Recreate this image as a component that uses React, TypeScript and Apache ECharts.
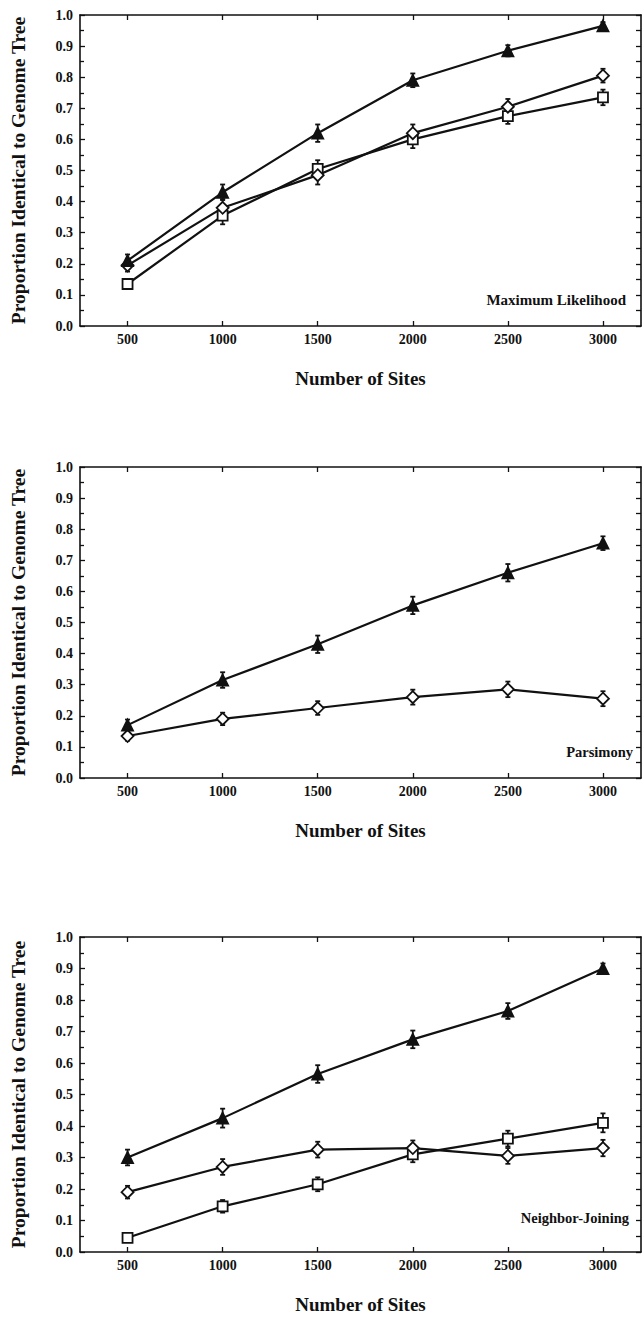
import React, { useEffect, useRef } from "react";
import * as echarts from "echarts";

// ---- data ----
const sites = [500, 1000, 1500, 2000, 2500, 3000];
const yTicks = [0, 0.1, 0.2, 0.3, 0.4, 0.5, 0.6, 0.7, 0.8, 0.9, 1.0];

const mlTriangle = [0.21, 0.43, 0.62, 0.79, 0.885, 0.965];
const mlDiamond = [0.195, 0.38, 0.485, 0.62, 0.705, 0.805];
const mlSquare = [0.135, 0.355, 0.505, 0.6, 0.675, 0.735];
const mlTriangleErr = [0.02, 0.025, 0.028, 0.022, 0.018, 0.012];
const mlDiamondErr = [0.02, 0.028, 0.03, 0.028, 0.025, 0.022];
const mlSquareErr = [0.015, 0.028, 0.028, 0.028, 0.025, 0.025];

const parsTriangle = [0.17, 0.315, 0.43, 0.555, 0.66, 0.755];
const parsDiamond = [0.135, 0.19, 0.225, 0.26, 0.285, 0.255];
const parsTriangleErr = [0.018, 0.025, 0.028, 0.028, 0.028, 0.022];
const parsDiamondErr = [0.015, 0.02, 0.022, 0.024, 0.025, 0.024];

const njTriangle = [0.3, 0.425, 0.565, 0.675, 0.765, 0.9];
const njDiamond = [0.19, 0.27, 0.325, 0.33, 0.305, 0.33];
const njSquare = [0.045, 0.145, 0.215, 0.31, 0.36, 0.41];
const njTriangleErr = [0.025, 0.03, 0.028, 0.028, 0.025, 0.016];
const njDiamondErr = [0.02, 0.025, 0.025, 0.024, 0.025, 0.026];
const njSquareErr = [0.0, 0.02, 0.022, 0.025, 0.025, 0.03];

const panelNames = ["Maximum Likelihood", "Parsimony", "Neighbor-Joining"];
const xTitle = "Number of Sites";
const yTitle = "Proportion Identical to Genome Tree";

const FONT = "'Liberation Serif', 'Times New Roman', serif";
const INK = "#111";

type SeriesDef = { vals: number[]; err: number[]; symbol: string; fill: string; size: number };

const panels: SeriesDef[][] = [
  [
    { vals: mlSquare, err: mlSquareErr, symbol: "rect", fill: "#fff", size: 10 },
    { vals: mlDiamond, err: mlDiamondErr, symbol: "diamond", fill: "#fff", size: 12 },
    { vals: mlTriangle, err: mlTriangleErr, symbol: "triangle", fill: INK, size: 11 },
  ],
  [
    { vals: parsDiamond, err: parsDiamondErr, symbol: "diamond", fill: "#fff", size: 12 },
    { vals: parsTriangle, err: parsTriangleErr, symbol: "triangle", fill: INK, size: 11 },
  ],
  [
    { vals: njSquare, err: njSquareErr, symbol: "rect", fill: "#fff", size: 10 },
    { vals: njDiamond, err: njDiamondErr, symbol: "diamond", fill: "#fff", size: 12 },
    { vals: njTriangle, err: njTriangleErr, symbol: "triangle", fill: INK, size: 11 },
  ],
];

const grids = [
  { left: 80, top: 15, width: 561, height: 311 },
  { left: 80, top: 467, width: 561, height: 311 },
  { left: 80, top: 937, width: 561, height: 315 },
];
const labelPos = [
  { x: 626, y: 300 },
  { x: 633, y: 752 },
  { x: 629, y: 1218 },
];

export default function App() {
  const ref = useRef<HTMLDivElement>(null);
  useEffect(() => {
    if (!ref.current) return;
    const chart = echarts.init(ref.current, undefined, { renderer: "svg" });

    const xAxes: any[] = [];
    const yAxes: any[] = [];
    const series: any[] = [];
    const tickStyle = { color: INK, width: 1.3 };
    const lineStyle = { color: INK, width: 1.6 };

    grids.forEach((g, i) => {
      xAxes.push({
        type: "value",
        gridIndex: i,
        min: 250,
        max: 3200,
        position: "bottom",
        name: xTitle,
        nameLocation: "middle",
        nameGap: 43,
        nameTextStyle: { fontFamily: FONT, fontWeight: "bold", fontSize: 19, color: INK },
        axisLine: { show: true, onZero: false, lineStyle },
        axisTick: { show: true, inside: true, length: 5, customValues: sites, lineStyle: tickStyle },
        axisLabel: {
          show: true,
          customValues: sites,
          formatter: (v: number) => String(v),
          fontFamily: FONT,
          fontWeight: "bold",
          fontSize: 14,
          color: INK,
          margin: 6,
        },
        splitLine: { show: false },
      });
      xAxes.push({
        type: "value",
        gridIndex: i,
        min: 250,
        max: 3200,
        position: "top",
        axisLine: { show: true, onZero: false, lineStyle },
        axisTick: { show: true, inside: true, length: 5, customValues: sites, lineStyle: tickStyle },
        axisLabel: { show: false },
        splitLine: { show: false },
      });
      yAxes.push({
        type: "value",
        gridIndex: i,
        min: 0,
        max: 1,
        interval: 0.1,
        position: "left",
        name: yTitle,
        nameLocation: "middle",
        nameGap: 52,
        nameTextStyle: { fontFamily: FONT, fontWeight: "bold", fontSize: 19.5, color: INK },
        axisLine: { show: true, onZero: false, lineStyle },
        axisTick: { show: true, inside: true, length: 5, lineStyle: tickStyle },
        minorTick: { show: true, splitNumber: 2, length: 4, lineStyle: tickStyle },
        axisLabel: {
          show: true,
          customValues: yTicks,
          formatter: (v: number) => v.toFixed(1),
          fontFamily: FONT,
          fontWeight: "bold",
          fontSize: 14,
          color: INK,
          margin: 7,
        },
        splitLine: { show: false },
        minorSplitLine: { show: false },
      });
      yAxes.push({
        type: "value",
        gridIndex: i,
        min: 0,
        max: 1,
        interval: 0.1,
        position: "right",
        axisLine: { show: true, onZero: false, lineStyle },
        axisTick: { show: true, inside: true, length: 5, lineStyle: tickStyle },
        minorTick: { show: true, splitNumber: 2, length: 5, lineStyle: tickStyle },
        axisLabel: { show: false },
        splitLine: { show: false },
        minorSplitLine: { show: false },
      });

      panels[i].forEach((s) => {
        series.push({
          type: "custom",
          xAxisIndex: i * 2,
          yAxisIndex: i * 2,
          silent: true,
          z: 1,
          encode: { x: 0, y: [1, 2] },
          data: sites.map((x, k) => [x, s.vals[k] - s.err[k], s.vals[k] + s.err[k]]),
          renderItem: (params: any, api: any) => {
            const x = api.value(0);
            const lo = api.coord([x, api.value(1)]);
            const hi = api.coord([x, api.value(2)]);
            const style = { stroke: INK, lineWidth: 1.8 };
            return {
              type: "group",
              children: [
                { type: "line", shape: { x1: lo[0], y1: lo[1], x2: hi[0], y2: hi[1] }, style },
                { type: "line", shape: { x1: lo[0] - 2.5, y1: lo[1], x2: lo[0] + 2.5, y2: lo[1] }, style },
                { type: "line", shape: { x1: hi[0] - 2.5, y1: hi[1], x2: hi[0] + 2.5, y2: hi[1] }, style },
              ],
            };
          },
        });
        series.push({
          type: "line",
          xAxisIndex: i * 2,
          yAxisIndex: i * 2,
          z: 3,
          data: sites.map((x, k) => [x, s.vals[k]]),
          symbol: s.symbol,
          symbolSize: s.size,
          showAllSymbol: true,
          lineStyle: { color: INK, width: 2.2 },
          itemStyle: { color: s.fill, borderColor: INK, borderWidth: 1.8 },
        });
      });
    });

    const option: any = {
      animation: false,
      backgroundColor: "#fff",
      grid: grids.map((g) => ({ ...g, containLabel: false })),
      xAxis: xAxes,
      yAxis: yAxes,
      series,
      graphic: panelNames.map((name, i) => ({
        type: "text",
        x: labelPos[i].x,
        y: labelPos[i].y,
        style: {
          text: name,
          font: `bold ${i === 0 ? 15 : 14.5}px ${FONT}`,
          fill: INK,
          textAlign: "right",
          textVerticalAlign: "middle",
        },
      })),
    };
    chart.setOption(option);
    return () => chart.dispose();
  }, []);

  return (
    <div
      ref={ref}
      style={{ position: "absolute", left: 0, top: 0, width: 642, height: 1331, background: "#fff" }}
    />
  );
}
